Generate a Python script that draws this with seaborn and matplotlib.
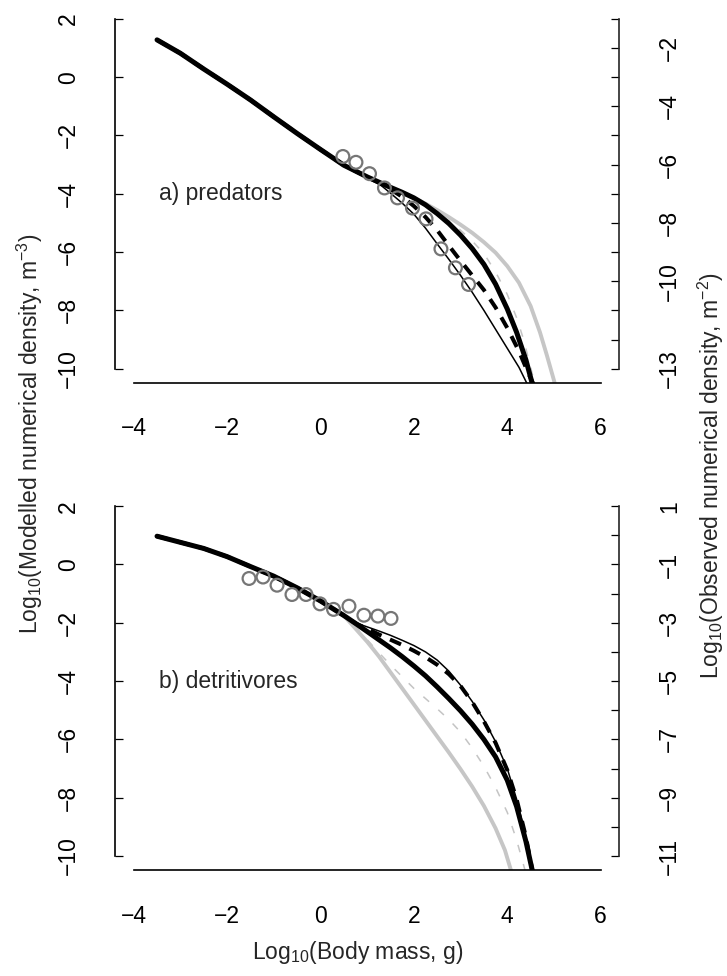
import numpy as np
import matplotlib
matplotlib.use("Agg")
import matplotlib.pyplot as plt
import seaborn as sns

# ---- data (x = log10 body mass, y = log10 modelled density) ----
# a) predators: all curves share the first part, then split after x = 1
top_shared_x = [-3.5, -3.0, -2.5, -2.0, -1.5, -1.0, -0.5, 0.0, 0.5, 1.0]
top_shared_y = [1.28, 0.82, 0.28, -0.24, -0.78, -1.36, -1.93, -2.48, -3.02, -3.42]

top_thick_x = [1.25, 1.5, 1.75, 2.0, 2.25, 2.5, 2.75, 3.0, 3.25, 3.5, 3.75, 4.0, 4.2, 4.4, 4.55]
top_thick_y = [-3.6, -3.78, -3.95, -4.14, -4.38, -4.68, -5.02, -5.42, -5.88, -6.42, -7.1,
               -7.95, -8.75, -9.7, -10.6]
top_thin_x = [1.25, 1.5, 1.75, 2.0, 2.25, 2.5, 2.75, 3.0, 3.25, 3.5, 3.75, 4.0, 4.25, 4.45]
top_thin_y = [-3.65, -3.98, -4.32, -4.7, -5.18, -5.72, -6.25, -6.8, -7.38, -8.0, -8.65,
              -9.3, -9.95, -10.6]
top_dash_x = [1.25, 1.5, 1.75, 2.0, 2.25, 2.5, 2.75, 3.0, 3.25, 3.5, 3.75, 4.0, 4.25, 4.45, 4.58]
top_dash_y = [-3.62, -3.85, -4.1, -4.42, -4.8, -5.25, -5.78, -6.3, -6.8, -7.3, -7.9,
              -8.6, -9.4, -10.15, -10.6]
top_grey_x = [1.25, 1.5, 1.75, 2.0, 2.25, 2.5, 2.75, 3.0, 3.25, 3.5, 3.75, 4.0, 4.25, 4.5,
              4.7, 4.85, 5.0, 5.05]
top_grey_y = [-3.6, -3.78, -3.96, -4.14, -4.34, -4.56, -4.8, -5.06, -5.34, -5.66, -6.02,
              -6.48, -7.05, -7.85, -8.75, -9.55, -10.4, -10.7]
top_greydash_x = [1.25, 1.5, 1.75, 2.0, 2.25, 2.5, 2.75, 3.0, 3.25, 3.5, 3.75, 4.0, 4.2,
                  4.35, 4.5, 4.6]
top_greydash_y = [-3.6, -3.8, -3.98, -4.18, -4.4, -4.65, -4.92, -5.25, -5.62, -6.05, -6.68,
                  -7.45, -8.25, -9.0, -9.95, -10.6]

# observed predators (right axis, m^-2)
top_obs_x = [0.48, 0.76, 1.05, 1.37, 1.65, 1.97, 2.26, 2.58, 2.89, 3.17]
top_obs_y = [-5.72, -5.92, -6.31, -6.80, -7.14, -7.49, -7.86, -8.89, -9.54, -10.11]
top_right_ticks = [-1, -2, -3, -4, -5, -6, -7, -8, -9, -10, -11, -12, -13]
top_right_labels = [-2, -4, -6, -8, -10, -13]

# b) detritivores: shared part up to x = 0.5
bot_shared_x = [-3.5, -3.0, -2.5, -2.0, -1.5, -1.0, -0.5, 0.0, 0.5]
bot_shared_y = [0.97, 0.76, 0.55, 0.27, -0.07, -0.4, -0.8, -1.25, -1.75]

bot_thick_x = [0.75, 1.0, 1.25, 1.5, 1.75, 2.0, 2.25, 2.5, 2.75, 3.0, 3.25, 3.5, 3.75, 4.0,
               4.2, 4.4, 4.55]
bot_thick_y = [-2.02, -2.3, -2.58, -2.86, -3.16, -3.48, -3.82, -4.2, -4.6, -5.02, -5.48,
               -6.0, -6.6, -7.4, -8.3, -9.5, -10.6]
bot_thin_x = [0.75, 1.0, 1.25, 1.5, 1.75, 2.0, 2.25, 2.5, 2.75, 3.0, 3.25, 3.5, 3.75, 4.0,
              4.2, 4.4, 4.55]
bot_thin_y = [-2.0, -2.14, -2.28, -2.43, -2.6, -2.78, -3.0, -3.28, -3.66, -4.14, -4.7,
              -5.33, -6.08, -7.0, -8.05, -9.35, -10.6]
bot_dash_x = [0.75, 1.0, 1.25, 1.5, 1.75, 2.0, 2.25, 2.5, 2.75, 3.0, 3.25, 3.5, 3.75, 4.0,
              4.2, 4.4, 4.55]
bot_dash_y = [-2.02, -2.2, -2.4, -2.58, -2.76, -2.96, -3.18, -3.44, -3.76, -4.17, -4.72,
              -5.38, -6.12, -7.05, -8.05, -9.35, -10.6]
bot_grey_x = [0.75, 1.0, 1.25, 1.5, 1.75, 2.0, 2.25, 2.5, 2.75, 3.0, 3.25, 3.5, 3.75,
              3.95, 4.1]
bot_grey_y = [-2.2, -2.65, -3.15, -3.7, -4.25, -4.8, -5.35, -5.9, -6.45, -7.02, -7.62,
              -8.28, -9.05, -9.8, -10.6]
bot_greydash_x = [0.75, 1.0, 1.25, 1.5, 1.75, 2.0, 2.25, 2.5, 2.75, 3.0, 3.25, 3.5, 3.75,
                  4.0, 4.2, 4.4]
bot_greydash_y = [-2.12, -2.58, -3.02, -3.45, -3.85, -4.25, -4.6, -4.95, -5.32, -5.75,
                  -6.3, -6.92, -7.65, -8.5, -9.45, -10.6]

# observed detritivores (right axis, m^-2)
bot_obs_x = [-1.53, -1.23, -0.93, -0.61, -0.31, -0.01, 0.28, 0.61, 0.93, 1.23, 1.51]
bot_obs_y = [-1.48, -1.43, -1.71, -2.03, -2.03, -2.35, -2.54, -2.43, -2.74, -2.77, -2.85]
bot_right_ticks = [1, 0, -1, -2, -3, -4, -5, -6, -7, -8, -9, -10, -11]
bot_right_labels = [1, -1, -3, -5, -7, -9, -11]

x_ticks = [-4, -2, 0, 2, 4, 6]
left_ticks = [2, 0, -2, -4, -6, -8, -10]

sns.set_style("white")
plt.rcParams["font.family"] = ["Liberation Sans", "DejaVu Sans"]
plt.rcParams["mathtext.default"] = "regular"

FS = 16.5


def minus(v):
    return str(v).replace("-", "\u2212")


def curve(ax, sx, sy, tx, ty, **kw):
    sns.lineplot(x=list(sx) + list(tx), y=list(sy) + list(ty), ax=ax, sort=False,
                 estimator=None, **kw)


def panel(ax, sx, sy, thick, thin, dash, grey, greydash, ox, oy,
          rticks, rlabels, shift, label):
    curve(ax, sx, sy, *grey, color="#c6c6c6", linewidth=2.8)
    curve(ax, sx, sy, *greydash, color="#c4c4c4", linewidth=1.1,
          linestyle=(0, (5, 8)))
    curve(ax, sx, sy, *thin, color="black", linewidth=1.1)
    curve(ax, sx, sy, *dash, color="black", linewidth=2.9,
          linestyle=(0, (3, 2.3)))
    curve(ax, sx, sy, *thick, color="black", linewidth=3.6)

    ax.set_xlim(-4.4, 6.4)
    ax.set_ylim(-10.48, 2.48)
    ax.set_xticks(x_ticks)
    ax.set_yticks(left_ticks)
    ax.set_xticklabels([minus(v) for v in x_ticks])
    ax.set_yticklabels([minus(v) for v in left_ticks], rotation=90, va="center")
    ax.set_xlabel("")
    ax.set_ylabel("")
    for s in ["top", "right"]:
        ax.spines[s].set_visible(False)
    ax.spines["left"].set_bounds(-10, 2)
    ax.spines["bottom"].set_bounds(-4, 6)
    for s in ["left", "bottom"]:
        ax.spines[s].set_linewidth(1.2)
        ax.spines[s].set_color("black")
    ax.tick_params(direction="in", length=5.8, width=0.9, labelsize=FS,
                   pad=25, colors="black")

    ax.text(-3.45, -4.0, label, fontsize=FS, ha="left", va="center")

    # right axis: observed density, same scale shifted
    ax2 = ax.twinx()
    ax2.set_ylim(-10.48 - shift, 2.48 - shift)
    sns.scatterplot(x=ox, y=oy, ax=ax2, marker="o", s=85,
                    facecolor="none", edgecolor="#767676", linewidth=1.6,
                    zorder=5)
    ax2.set_yticks(rticks)
    ax2.set_yticklabels([minus(v) if v in rlabels else "" for v in rticks],
                        rotation=90, va="center")
    ax2.set_ylabel("")
    for s in ["top", "left", "bottom"]:
        ax2.spines[s].set_visible(False)
    ax2.spines["right"].set_bounds(-10 - shift, 2 - shift)
    ax2.spines["right"].set_linewidth(1.2)
    ax2.tick_params(direction="in", length=5.8, width=0.9, labelsize=FS,
                    pad=28, colors="black")
    ax2.set_xlim(-4.4, 6.4)


fig = plt.figure(figsize=(7.27, 9.76), dpi=100)
ax_top = fig.add_axes([0.1582, 0.6079, 0.6937, 0.3871])
ax_bot = fig.add_axes([0.1582, 0.1086, 0.6937, 0.3871])

panel(ax_top, top_shared_x, top_shared_y,
      (top_thick_x, top_thick_y), (top_thin_x, top_thin_y),
      (top_dash_x, top_dash_y), (top_grey_x, top_grey_y),
      (top_greydash_x, top_greydash_y),
      top_obs_x, top_obs_y, top_right_ticks, top_right_labels, 3,
      "a) predators")
panel(ax_bot, bot_shared_x, bot_shared_y,
      (bot_thick_x, bot_thick_y), (bot_thin_x, bot_thin_y),
      (bot_dash_x, bot_dash_y), (bot_grey_x, bot_grey_y),
      (bot_greydash_x, bot_greydash_y),
      bot_obs_x, bot_obs_y, bot_right_ticks, bot_right_labels, 1,
      "b) detritivores")

fig.text(0.492, 1 - 953 / 976, r"Log$_{10}$(Body mass, g)", fontsize=FS,
         ha="center", va="center")
fig.text(30 / 727, 1 - 434 / 976,
         r"Log$_{10}$(Modelled numerical density, m$^{-3}$)", fontsize=FS,
         rotation=90, ha="center", va="center")
fig.text(711 / 727, 1 - 475 / 976,
         r"Log$_{10}$(Observed numerical density, m$^{-2}$)", fontsize=FS,
         rotation=90, ha="center", va="center")

fig.savefig("out.png", dpi=100)
